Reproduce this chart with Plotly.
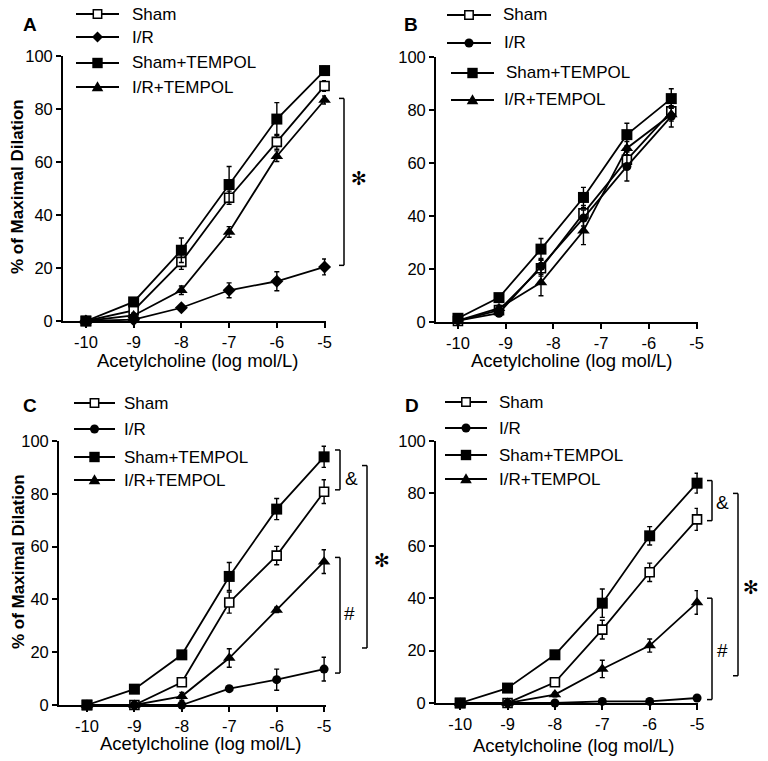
import plotly.graph_objects as go

W, H = 768, 761

def px(x):
    return x / W

def py(y):
    return 1 - y / H

conc = [-10, -9, -8, -7, -6, -5]
# panel B points sit off the tick marks in the original figure
conc_b = [-10, -9.14, -8.26, -7.37, -6.46, -5.53]
tick_vals = [-10, -9, -8, -7, -6, -5]
tick_text = ['-10', '-9', '-8', '-7', '-6', '-5']

names = ['Sham', 'I/R', 'Sham+TEMPOL', 'I/R+TEMPOL']

# panel A
a_sham = [0, 4, 22.3, 46.5, 67.6, 88.7]
a_sham_err = [0, 1, 2.8, 2.5, 2.8, 2]
a_ir = [0, 0.5, 5, 11.6, 15, 20.4]
a_ir_err = [0, 0.5, 0.8, 2.8, 3.6, 3]
a_shamt = [0, 7.2, 26.7, 51.5, 76.2, 94.5]
a_shamt_err = [0, 1, 4.6, 6.8, 6.2, 1.6]
a_irt = [0, 2.1, 11.6, 33.6, 62.2, 83.4]
a_irt_err = [0, 0.8, 1.6, 2, 2, 1.5]

# panel B
b_sham = [0.4, 4.5, 20.3, 41, 61.2, 79.5]
b_sham_err = [0, 1, 3, 3, 3, 3]
b_ir = [0.5, 3.3, 21, 39.2, 58.7, 77.6]
b_ir_err = [0, 0.8, 3, 3, 5.5, 4]
b_shamt = [1.4, 9.2, 27.5, 47, 70.7, 84.3]
b_shamt_err = [0.5, 1, 4, 3.8, 4.3, 3.7]
b_irt = [0.5, 5.2, 14.9, 34.4, 65.6, 78.3]
b_irt_err = [0, 1, 5, 5.2, 2.5, 2.5]

# panel C
c_sham = [0, 0, 8.6, 38.8, 56.6, 80.8]
c_sham_err = [0, 0, 1, 4, 3.5, 4.5]
c_ir = [0, 0, 0, 6.2, 9.6, 13.6]
c_ir_err = [0, 0, 0.5, 1, 4, 4.5]
c_shamt = [0, 6, 19, 48.7, 74.2, 94]
c_shamt_err = [0, 0.8, 1.2, 5.3, 4, 4]
c_irt = [0, 0, 3.3, 17.8, 36, 54.3]
c_irt_err = [0, 0, 1.5, 3.5, 1, 4.5]

# panel D
d_sham = [0, 0, 7.9, 28, 49.9, 70.1]
d_sham_err = [0, 0, 0.8, 3.6, 3.5, 4.2]
d_ir = [0, 0, 0, 0.6, 0.6, 1.9]
d_ir_err = [0, 0, 0, 0.5, 0.5, 0.8]
d_shamt = [0, 5.7, 18.4, 38.1, 63.8, 83.9]
d_shamt_err = [0, 0.8, 1.5, 5.4, 3.5, 3.8]
d_irt = [0, 0, 3.2, 13, 21.9, 38.4]
d_irt_err = [0, 0, 0.8, 3.3, 2.5, 4.5]

FONT = 'Liberation Sans, Arial, sans-serif'

def marker_style(i, ir_symbol):
    if i == 0:
        return dict(symbol='square', size=9, color='white', line=dict(color='black', width=1.6))
    if i == 1:
        return dict(symbol=ir_symbol, size=10 if ir_symbol == 'diamond' else 9, color='black', line=dict(width=0))
    if i == 2:
        return dict(symbol='square', size=11, color='black', line=dict(width=0))
    return dict(symbol='triangle-up', size=11, color='black', line=dict(width=0))

fig = go.Figure()

panels = [
    ('x', 'y', conc, [a_sham, a_ir, a_shamt, a_irt], [a_sham_err, a_ir_err, a_shamt_err, a_irt_err], 'diamond'),
    ('x2', 'y2', conc_b, [b_sham, b_ir, b_shamt, b_irt], [b_sham_err, b_ir_err, b_shamt_err, b_irt_err], 'circle'),
    ('x3', 'y3', conc, [c_sham, c_ir, c_shamt, c_irt], [c_sham_err, c_ir_err, c_shamt_err, c_irt_err], 'circle'),
    ('x4', 'y4', conc, [d_sham, d_ir, d_shamt, d_irt], [d_sham_err, d_ir_err, d_shamt_err, d_irt_err], 'circle'),
]

for xa, ya, xs, vals, errs, ir_sym in panels:
    for i, name in enumerate(names):
        fig.add_trace(go.Scatter(
            x=xs, y=vals[i], name=name, mode='lines+markers',
            xaxis=xa, yaxis=ya, showlegend=False, cliponaxis=False,
            line=dict(color='black', width=1.8),
            marker=marker_style(i, ir_sym),
            error_y=dict(type='data', array=errs[i], color='black', thickness=1.4, width=2.5),
        ))

# axis geometry (pixel positions)
# panel: (x0, x1, xrange, ybottom_px, ytop_px)
geo = {
    '': (63, 326, [-10.48, -4.97], 321, 56),
    '2': (436, 698, [-10.46, -4.97], 322, 57),
    '3': (59, 326, [-10.59, -4.96], 705, 441),
    '4': (436, 698, [-10.51, -4.98], 703, 441),
}

axis_common = dict(
    showline=True, linecolor='black', linewidth=1.8, ticks='outside',
    ticklen=5, tickwidth=1.5, tickcolor='black', showgrid=False, zeroline=False,
    tickfont=dict(family=FONT, size=16.5, color='black'),
)

layout = dict(
    width=W, height=H, margin=dict(l=0, r=0, t=0, b=0, autoexpand=False),
    plot_bgcolor='white', paper_bgcolor='white',
    font=dict(family=FONT, color='black'), showlegend=False,
)

for k, (x0, x1, xr, yb, yt) in geo.items():
    layout['xaxis' + k] = dict(
        domain=[px(x0), px(x1)], range=xr, anchor='y' + k,
        tickvals=tick_vals, ticktext=tick_text, **axis_common,
    )
    layout['yaxis' + k] = dict(
        domain=[py(yb), py(yt)], range=[0, 100], anchor='x' + k,
        tickvals=[0, 20, 40, 60, 80, 100], **axis_common,
    )

fig.update_layout(**layout)

annotations = []
shapes = []

def text(x, y, s, size=17, bold=False, angle=0, family=FONT, anchor='center'):
    annotations.append(dict(
        x=px(x), y=py(y), xref='paper', yref='paper', text='<b>%s</b>' % s if bold else s,
        showarrow=False, textangle=angle, xanchor=anchor, yanchor='middle',
        font=dict(family=family, size=size, color='black'),
    ))

# panel letters
text(30, 25, 'A', 19, bold=True)
text(411, 25, 'B', 19, bold=True)
text(30, 405, 'C', 19, bold=True)
text(412, 405, 'D', 19, bold=True)

# axis titles
xlab = 'Acetylcholine (log mol/L)'
text(198, 360, xlab, 18.5)
text(572, 360, xlab, 18.5)
text(201, 743, xlab, 18.5)
text(574, 745, xlab, 18.5)
text(18, 187, '% of Maximal Dilation', 17, bold=True, angle=-90)
text(18, 562, '% of Maximal Dilation', 17, bold=True, angle=-90)

# significance marks
STAR = '\u273B'
text(359, 178, STAR, 19, family='DejaVu Sans')
text(382, 560, STAR, 19, family='DejaVu Sans')
text(751, 587, STAR, 19, family='DejaVu Sans')
text(351, 478, '&', 19)
text(349, 613, '#', 19)
text(722, 502, '&', 19)
text(722, 650, '#', 19)

def seg(x0, y0, x1, y1, yref='paper', width=1.5):
    shapes.append(dict(type='line', xref='paper', yref=yref,
                       x0=px(x0), x1=px(x1),
                       y0=py(y0) if yref == 'paper' else y0,
                       y1=py(y1) if yref == 'paper' else y1,
                       line=dict(color='black', width=width)))

# brackets: vertical bar at pixel x, data y, with short ticks pointing left
def bracket(xpix, y0, y1, yref, tick=5):
    seg(xpix, y0, xpix, y1, yref)
    seg(xpix - tick, y0, xpix, y0, yref)
    seg(xpix - tick, y1, xpix, y1, yref)

bracket(344, 21, 84, 'y')
bracket(340, 81.5, 96.6, 'y3')
bracket(340, 12.1, 55.9, 'y3')
bracket(367, 21.6, 90.7, 'y3')
bracket(712, 69.6, 84.9, 'y4')
bracket(712, 1.3, 40, 'y4')
bracket(738, 10.4, 80, 'y4')

# legend keys, drawn per panel like the original figure
def key_marker(kind, cx, cy):
    if kind == 'open_square':
        s = 4.2
        shapes.append(dict(type='rect', xref='paper', yref='paper',
                           x0=px(cx - s), x1=px(cx + s), y0=py(cy + s), y1=py(cy - s),
                           fillcolor='white', line=dict(color='black', width=1.5)))
    elif kind == 'square':
        s = 5.2
        shapes.append(dict(type='rect', xref='paper', yref='paper',
                           x0=px(cx - s), x1=px(cx + s), y0=py(cy + s), y1=py(cy - s),
                           fillcolor='black', line=dict(width=0)))
    elif kind == 'circle':
        r = 4.5
        shapes.append(dict(type='circle', xref='paper', yref='paper',
                           x0=px(cx - r), x1=px(cx + r), y0=py(cy + r), y1=py(cy - r),
                           fillcolor='black', line=dict(width=0)))
    elif kind == 'diamond':
        r = 5.5
        path = 'M %f %f L %f %f L %f %f L %f %f Z' % (
            px(cx), py(cy - r), px(cx + r), py(cy), px(cx), py(cy + r), px(cx - r), py(cy))
        shapes.append(dict(type='path', xref='paper', yref='paper', path=path,
                           fillcolor='black', line=dict(width=0)))
    elif kind == 'triangle':
        r = 5.8
        path = 'M %f %f L %f %f L %f %f Z' % (
            px(cx), py(cy - r), px(cx + r), py(cy + r * 0.75), px(cx - r), py(cy + r * 0.75))
        shapes.append(dict(type='path', xref='paper', yref='paper', path=path,
                           fillcolor='black', line=dict(width=0)))

# (rows y, line x0, line x1, text x) per panel
legends = [
    ([14, 37, 63, 87], [(76, 119)] * 4, [130] * 4, 'diamond'),
    ([15, 43, 73, 100], [(447, 491), (447, 491), (451, 494), (451, 494)], [501, 502, 504, 502], 'circle'),
    ([403, 429, 457, 480], [(74, 115)] * 4, [122] * 4, 'circle'),
    ([402, 428, 455, 479], [(445, 487)] * 4, [497] * 4, 'circle'),
]
for rows, lines, txs, ir_kind in legends:
    kinds = ['open_square', ir_kind, 'square', 'triangle']
    for name, ry, (lx0, lx1), tx, kind in zip(names, rows, lines, txs, kinds):
        seg(lx0, ry, lx1, ry, width=1.8)
        key_marker(kind, (lx0 + lx1) / 2, ry)
        text(tx, ry, name, 17, anchor='left')

fig.update_layout(annotations=annotations, shapes=shapes)

# the page body has a default 8px margin; drop it so the figure fills the window
fig.write_html('out.html', config={'displayModeBar': False},
               post_script="document.body.style.margin='0';document.body.style.overflow='hidden';")
